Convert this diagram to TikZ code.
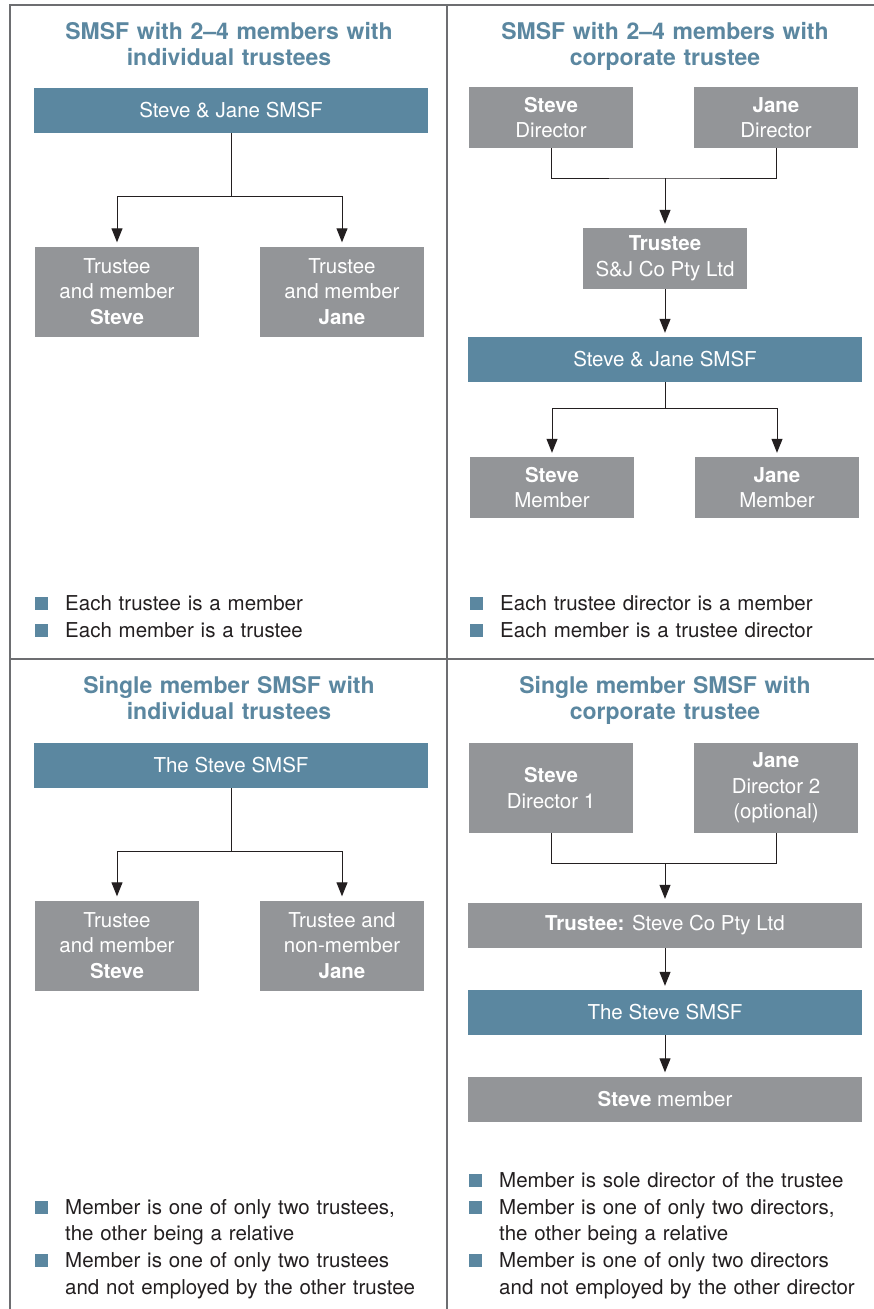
\documentclass[tikz,border=0pt]{standalone}
\usepackage{fontspec}
\setmainfont{TeX Gyre Heros}
\usetikzlibrary{arrows.meta}
\definecolor{fundblue}{HTML}{5B87A0}
\definecolor{boxgrey}{HTML}{939598}
\definecolor{rulegrey}{HTML}{6D6E71}
\definecolor{inkgrey}{HTML}{231F20}
\tikzset{
	box/.style = {align=center, inner sep=0pt, text=white, font=\fontsize{20.5}{25.5}\selectfont},
	fund/.style = {box, fill=fundblue, minimum width=394pt, minimum height=45pt},
	person/.style = {box, fill=boxgrey, minimum width=164pt, minimum height=61pt},
	tallperson/.style = {person, minimum height=90pt},
	widebox/.style = {box, fill=boxgrey, minimum width=394pt, minimum height=45pt},
	heading/.style = {anchor=base, inner sep=0pt, text width=420pt, align=center, text=fundblue, font=\fontsize{23}{26}\selectfont\bfseries},
	point/.style = {anchor=base west, inner sep=0pt, text width=372pt, align=left, text=inkgrey, font=\fontsize{20.5}{26.7}\selectfont},
	marker/.style = {anchor=south west, inner sep=0pt, fill=fundblue, minimum size=13pt},
	link/.style = {draw=inkgrey, line width=1pt},
	flow/.style = {link, -{Triangle[length=14pt,width=11pt]}, shorten >=4pt},
	frame/.style = {draw=rulegrey, line width=1.2pt}
}

\begin{document}
\begin{tikzpicture}[x=1pt, y=-1pt]
\useasboundingbox (0,0) rectangle (874,1309);

\draw[frame] (10,1309) -- (10,5) -- (874,5);
\draw[frame] (447,5) -- (447,1309);
\draw[frame] (10,659) -- (874,659);

% top left
\node[heading] (head1) at (229,39) {SMSF with 2--4 members with\\individual trustees};
\node[fund] (fund1) at (231,110) {Steve \& Jane SMSF};
\node[tallperson] (t1s) at (117,291.5) {Trustee\\and member\\\textbf{Steve}};
\node[tallperson] (t1j) at (342,291.5) {Trustee\\and member\\\textbf{Jane}};
\coordinate (fork1) at (231,196);
\draw[link] (fund1.south) -- (fork1);
\draw[flow] (fork1) -| (t1s.north);
\draw[flow] (fork1) -| (t1j.north);
\node[point] (p1a) at (65,610.5) {Each trustee is a member};
\node[point] (p1b) at (65,637) {Each member is a trustee};
\node[marker] at ([xshift=-30pt]p1a.base west) {};
\node[marker] at ([xshift=-30pt]p1b.base west) {};

% top right
\node[heading] (head2) at (665,39) {SMSF with 2--4 members with\\corporate trustee};
\node[person] (d2s) at (551,117.5) {\textbf{Steve}\\Director};
\node[person] (d2j) at (776,117.5) {\textbf{Jane}\\Director};
\coordinate (join2) at (665,178);
\draw[link] (d2s.south) |- (join2) -| (d2j.south);
\node[person] (trustee2) at (665,258.5) {\textbf{Trustee}\\S\&J Co Pty Ltd};
\draw[flow] (join2) -- (trustee2.north);
\node[fund] (fund2) at (665,359.5) {Steve \& Jane SMSF};
\draw[flow] (trustee2.south) -- (fund2.north);
\node[person] (m2s) at (552,487.5) {\textbf{Steve}\\Member};
\node[person] (m2j) at (777,487.5) {\textbf{Jane}\\Member};
\coordinate (fork2) at (665,408);
\draw[link] (fund2.south) -- (fork2);
\draw[flow] (fork2) -| (m2s.north);
\draw[flow] (fork2) -| (m2j.north);
\node[point] (p2a) at (500,610.5) {Each trustee director is a member};
\node[point] (p2b) at (500,637) {Each member is a trustee director};
\node[marker] at ([xshift=-30pt]p2a.base west) {};
\node[marker] at ([xshift=-30pt]p2b.base west) {};

% bottom left
\node[heading] (head3) at (229,693.5) {Single member SMSF with\\individual trustees};
\node[fund] (fund3) at (231,765.5) {The Steve SMSF};
\node[tallperson] (t3s) at (117,945.5) {Trustee\\and member\\\textbf{Steve}};
\node[tallperson] (t3j) at (342,945.5) {Trustee and\\non-member\\\textbf{Jane}};
\coordinate (fork3) at (231,851);
\draw[link] (fund3.south) -- (fork3);
\draw[flow] (fork3) -| (t3s.north);
\draw[flow] (fork3) -| (t3j.north);
\node[point] (p3a) at (65,1214) {Member is one of only two trustees,\\the other being a relative};
\node[point] (p3b) at (65,1267.5) {Member is one of only two trustees\\and not employed by the other trustee};
\node[marker] at ([xshift=-30pt]p3a.base west) {};
\node[marker] at ([xshift=-30pt]p3b.base west) {};

% bottom right
\node[heading] (head4) at (665,693.5) {Single member SMSF with\\corporate trustee};
\node[tallperson] (d4s) at (551,788) {\textbf{Steve}\\Director 1};
\node[tallperson] (d4j) at (776,788) {\textbf{Jane}\\Director 2\\(optional)};
\coordinate (join4) at (665,863);
\draw[link] (d4s.south) |- (join4) -| (d4j.south);
\node[widebox] (trustee4) at (665,925.5) {\textbf{Trustee:} Steve Co Pty Ltd};
\draw[flow] (join4) -- (trustee4.north);
\node[fund] (fund4) at (665,1012.5) {The Steve SMSF};
\draw[flow] (trustee4.south) -- (fund4.north);
\node[widebox] (m4) at (665,1099) {\textbf{Steve} member};
\draw[flow] (fund4.south) -- (m4.north);
\node[point] (p4a) at (499,1187.5) {Member is sole director of the trustee};
\node[point] (p4b) at (499,1214) {Member is one of only two directors,\\the other being a relative};
\node[point] (p4c) at (499,1267.5) {Member is one of only two directors\\and not employed by the other director};
\node[marker] at ([xshift=-30pt]p4a.base west) {};
\node[marker] at ([xshift=-30pt]p4b.base west) {};
\node[marker] at ([xshift=-30pt]p4c.base west) {};
\end{tikzpicture}
\end{document}
